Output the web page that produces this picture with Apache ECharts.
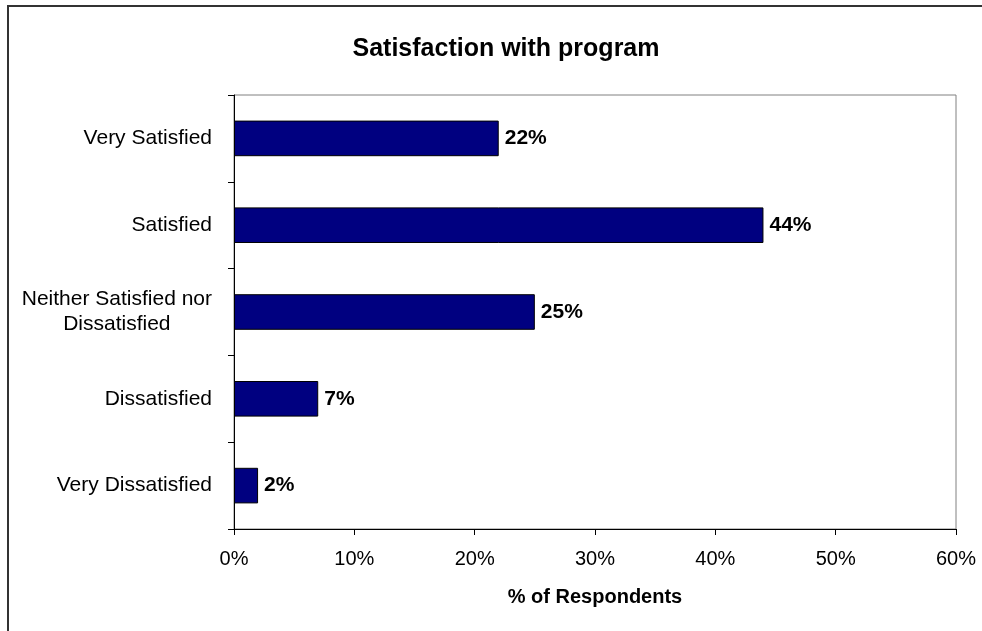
<!DOCTYPE html>
<html>
<head>
<meta charset="utf-8">
<script src="https://cdn.jsdelivr.net/npm/echarts@6/dist/echarts.min.js"></script>
<style>
  html, body { margin: 0; padding: 0; background: #ffffff; }
  #chart { width: 982px; height: 631px; }
</style>
</head>
<body>
<div id="chart"></div>
<script>
// Survey responses, listed top to bottom
const categories = [
  'Very Satisfied',
  'Satisfied',
  'Neither Satisfied nor\nDissatisfied',
  'Dissatisfied',
  'Very Dissatisfied'
];
const respondentShare = [22, 44, 25, 7, 2];   // % of respondents
const xTicks = { min: 0, max: 60, step: 10 };  // percent axis

const FONT = '"Liberation Sans", Arial, sans-serif';

const chart = echarts.init(document.getElementById('chart'), null, { renderer: 'canvas' });

// Two-line category labels get their second line centred under the first
function categoryLabel(name) {
  const parts = name.split('\n');
  if (parts.length === 1) return name;
  return '{a|' + parts[0] + '}\n{b|' + parts[1] + '}';
}

chart.setOption({
  animation: false,
  backgroundColor: '#ffffff',
  textStyle: { fontFamily: FONT },
  title: {
    text: 'Satisfaction with program',
    left: 501,
    textAlign: 'center',
    top: 32,
    textStyle: { fontFamily: FONT, fontSize: 25, fontWeight: 'bold', color: '#000000' }
  },
  graphic: [{
    type: 'rect',
    shape: { x: 8, y: 6, width: 1100, height: 800 },
    style: { fill: 'none', stroke: '#333333', lineWidth: 2 },
    silent: true,
    z: 100
  }],
  grid: {
    left: 234, right: 26, top: 95, bottom: 102,
    show: true,
    borderColor: '#808080',
    borderWidth: 1,
    backgroundColor: '#ffffff'
  },
  xAxis: {
    type: 'value',
    min: xTicks.min,
    max: xTicks.max,
    interval: xTicks.step,
    name: '% of Respondents',
    nameLocation: 'middle',
    nameGap: 58,
    nameTextStyle: { fontFamily: FONT, fontSize: 20, fontWeight: 'bold', color: '#000000' },
    axisLine: { show: true, lineStyle: { color: '#000000', width: 1 } },
    axisTick: { show: true, length: 6, lineStyle: { color: '#000000' } },
    axisLabel: {
      formatter: '{value}%',
      margin: 20,
      fontFamily: FONT, fontSize: 20, color: '#000000'
    },
    splitLine: { show: false }
  },
  yAxis: {
    type: 'category',
    data: categories,
    inverse: true,
    axisLine: { show: true, lineStyle: { color: '#000000', width: 1 } },
    axisTick: { show: true, length: 6, lineStyle: { color: '#000000' } },
    axisLabel: {
      margin: 22,
      fontFamily: FONT, fontSize: 21, color: '#000000',
      lineHeight: 25,
      formatter: categoryLabel,
      rich: {
        a: { fontFamily: FONT, fontSize: 21, color: '#000000', lineHeight: 25 },
        b: { fontFamily: FONT, fontSize: 21, color: '#000000', lineHeight: 25, width: 190, align: 'center' }
      }
    },
    splitLine: { show: false }
  },
  series: [{
    type: 'bar',
    data: respondentShare,
    barWidth: '41%',
    itemStyle: { color: '#000080', borderColor: '#000000', borderWidth: 1 },
    label: {
      show: true,
      position: 'right',
      distance: 6,
      formatter: '{c}%',
      fontFamily: FONT, fontSize: 21, fontWeight: 'bold', color: '#000000'
    }
  }]
});
</script>
</body>
</html>
